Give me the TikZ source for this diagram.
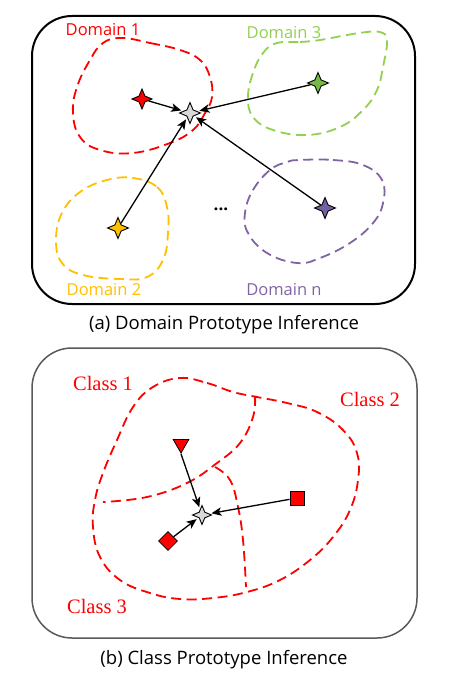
\documentclass[tikz,border=0pt]{standalone}
\usepackage{fontspec}
\setmainfont{Open Sans}
\newfontfamily\serifcls{Liberation Serif}
\usetikzlibrary{shapes.geometric,arrows.meta}
\definecolor{dred}{HTML}{FF0000}
\definecolor{dgreen}{HTML}{92D050}
\definecolor{dyellow}{HTML}{FFC000}
\definecolor{dpurple}{HTML}{8064A2}
\definecolor{sgreen}{HTML}{76B947}
\definecolor{spurple}{HTML}{7460A0}
\definecolor{lgray}{HTML}{D9D9D9}
\definecolor{boxgray}{HTML}{595959}
\tikzset{
  proto/.style={star, star points=4, star point ratio=2.4, minimum size=21pt, inner sep=0pt, draw=black, line width=0.9pt},
  blob/.style={dash pattern=on 10pt off 5.5pt, line width=1.8pt},
  arr/.style={-{Stealth[length=10pt,width=8.5pt,inset=2.5pt]}, line width=1.3pt, shorten >=2pt},
  dlabel/.style={font=\fontsize{16.5}{19}\selectfont, inner sep=0pt},
  clabel/.style={font=\serifcls\fontsize{20.5}{24}\selectfont, text=dred, inner sep=0pt},
  captxt/.style={font=\fontsize{18.5}{22}\selectfont, inner sep=0pt},
  markbox/.style={draw=black, fill=dred, line width=0.8pt, inner sep=0pt}
}
\begin{document}
\begin{tikzpicture}[x=1pt,y=-1pt]
\useasboundingbox (0,0) rectangle (448,676);
% ---------- panel a ----------
\draw[rounded corners=40pt, line width=2pt] (32,16) rectangle (415,304);
\draw[blob, dred] plot[smooth cycle, tension=0.7] coordinates {(122,38) (150,43) (180,50) (200,60) (210,77) (212,97) (205,113) (193,130) (170,143) (133,153) (100,150) (80,137) (73,113) (77,87) (90,60) (103,43)};
\draw[blob, dgreen] plot[smooth cycle, tension=0.7] coordinates {(277,43) (300,42) (320,40) (347,35) (367,32) (380,32) (387,40) (383,67) (377,90) (363,110) (340,127) (307,135) (273,130) (253,117) (248,97) (253,73) (263,53)};
\draw[blob, dyellow] plot[smooth cycle, tension=0.7] coordinates {(133,178) (157,187) (167,207) (168,233) (163,260) (147,277) (120,279) (83,275) (62,263) (56,240) (62,213) (80,192) (107,180)};
\draw[blob, dpurple] plot[smooth cycle, tension=0.7] coordinates {(300,160) (333,160) (363,165) (382,180) (383,203) (373,223) (350,243) (320,258) (297,263) (267,253) (248,233) (245,213) (253,190) (270,170) (287,162)};
\node[dlabel, text=dred] (l1) at (103,30) {Domain 1};
\node[dlabel, text=dgreen] (l3) at (284,33) {Domain 3};
\node[dlabel, text=dyellow] (l2) at (104,290) {Domain 2};
\node[dlabel, text=dpurple] (ln) at (284,290) {Domain n};
\node[proto, fill=lgray] (c) at (190,113) {};
\node[proto, fill=dred, minimum size=20pt] (s1) at (142,99) {};
\node[proto, fill=sgreen] (s3) at (318,83) {};
\node[proto, fill=dyellow] (s2) at (118,228) {};
\node[proto, fill=spurple] (sn) at (325,208) {};
\node[inner sep=0pt, font=\fontsize{17}{19}\selectfont\bfseries] (dots) at (221,209) {...};
\draw[arr] (s1) -- (c);
\draw[arr] (s3) -- (c);
\draw[arr] (s2) -- (c);
\draw[arr] (sn) -- (c);
\node[captxt] (capa) at (224,325) {(a) Domain Prototype Inference};
% ---------- panel b ----------
\draw[rounded corners=40pt, line width=1.5pt, boxgray] (32,348) rectangle (417,638);
\draw[blob, dred] plot[smooth cycle, tension=0.7] coordinates {(180,378) (207,383) (233,392) (257,397) (287,403) (317,412) (343,430) (357,453) (358,480) (350,510) (333,537) (310,560) (280,580) (247,592) (213,598) (180,599) (150,593) (120,580) (100,557) (93,527) (95,500) (103,473) (117,440) (133,407) (153,387)};
\draw[blob, dred] plot[smooth, tension=0.7] coordinates {(255,396) (253,417) (240,443) (217,463) (187,483) (147,497) (103,502)};
\draw[blob, dred] plot[smooth, tension=0.7] coordinates {(215,467) (230,480) (238,507) (243,540) (246,587)};
\node[clabel] (k1) at (103,383) {Class 1};
\node[clabel] (k2) at (370,399) {Class 2};
\node[clabel] (k3) at (97,606) {Class 3};
\node[proto, fill=lgray, minimum size=19pt] (cc) at (202,515) {};
\node[markbox, regular polygon, regular polygon sides=3, shape border rotate=180, minimum size=18pt] (tri) at (181,444) {};
\node[markbox, rectangle, minimum size=14pt] (sq) at (297,498) {};
\node[markbox, diamond, minimum size=19pt] (dia) at (168,541) {};
\draw[arr] (tri.south) -- (cc);
\draw[arr] (sq) -- (cc);
\draw[arr] (dia) -- (cc);
\node[captxt] (capb) at (224,660) {(b) Class Prototype Inference};
\end{tikzpicture}
\end{document}
